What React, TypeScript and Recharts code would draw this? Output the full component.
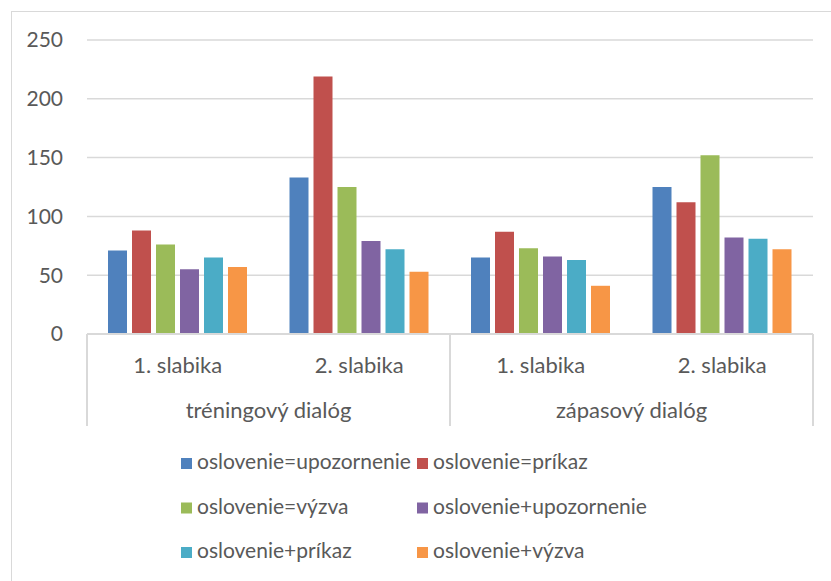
import React from "react";
import { Bar, BarChart, CartesianGrid, Legend, XAxis, YAxis } from "recharts";

// row labels of the two-level category axis
const syllables = ["1. slabika", "2. slabika", "1. slabika", "2. slabika"];
const dialogs = ["tréningový dialóg", "tréningový dialóg", "zápasový dialóg", "zápasový dialóg"];

const seriesNames = [
    "oslovenie=upozornenie",
    "oslovenie=príkaz",
    "oslovenie=výzva",
    "oslovenie+upozornenie",
    "oslovenie+príkaz",
    "oslovenie+výzva",
];
const seriesColors = ["#4F81BD", "#C0504D", "#9BBB59", "#8064A2", "#4BACC6", "#F79646"];

const upozornenieEq = [71, 133, 65, 125];
const prikazEq = [88, 219, 87, 112];
const vyzvaEq = [76, 125, 73, 152];
const upozornenieAdd = [55, 79, 66, 82];
const prikazAdd = [65, 72, 63, 81];
const vyzvaAdd = [57, 53, 41, 72];

const seriesValues = [upozornenieEq, prikazEq, vyzvaEq, upozornenieAdd, prikazAdd, vyzvaAdd];
const yTicks = [0, 50, 100, 150, 200, 250];

const data = syllables.map((s, i) => {
    const row: Record<string, string | number> = { sub: s, grp: dialogs[i] };
    seriesNames.forEach((n, k) => (row[n] = seriesValues[k][i]));
    return row;
});

const FONT = "Lato, 'Open Sans', sans-serif";
const TEXT = "#595959";
const LINE = "#d9d9d9";
const LEVEL_H = 46;

const SubTick = (props: any) => {
    const { x, y, payload } = props;
    return (
        <text x={x} y={y + 39} textAnchor="middle" fill={TEXT} fontSize={22} fontFamily={FONT}>
            {payload.value}
        </text>
    );
};

const GroupTick = (props: any) => {
    const { x, y, payload } = props;
    const half = payload.offset ?? 0;
    return (
        <g>
            <line x1={x - half} x2={x - half} y1={y - LEVEL_H} y2={y + LEVEL_H} stroke={LINE} strokeWidth={2} />
            <line x1={x + half} x2={x + half} y1={y - LEVEL_H} y2={y + LEVEL_H} stroke={LINE} strokeWidth={2} />
            <text x={x} y={y + 38} textAnchor="middle" fill={TEXT} fontSize={22} fontFamily={FONT}>
                {payload.value}
            </text>
        </g>
    );
};

const LegendBox = (props: any) => {
    // keep series order, not the alphabetical one
    const items = [...(props.payload || [])].sort(
        (a: any, b: any) => seriesNames.indexOf(a.value) - seriesNames.indexOf(b.value)
    );
    return (
        <svg width={560} height={140}>
            {items.map((it: any, i: number) => {
                const col = i % 2;
                const row = Math.floor(i / 2);
                const bx = col === 0 ? 11 : 247;
                const by = 29 + row * 44.5;
                return (
                    <g key={it.value}>
                        <rect x={bx} y={by - 11} width={11} height={11} fill={it.color} />
                        <text x={bx + 16} y={by} fill={TEXT} fontSize={21} fontFamily={FONT}>
                            {it.value}
                        </text>
                    </g>
                );
            })}
        </svg>
    );
};

export default function App() {
    return (
        <div
            style={{
                position: "absolute",
                left: 0,
                top: 0,
                width: 831,
                height: 581,
                overflow: "hidden",
                background: "#fff",
            }}
        >
            <div
                style={{
                    position: "absolute",
                    left: 11,
                    top: 11,
                    width: 840,
                    height: 600,
                    border: `1px solid ${LINE}`,
                }}
            />
            <BarChart
                width={831}
                height={581}
                data={data}
                margin={{ top: 40, right: 18, left: 0, bottom: 155 }}
                barSize={19}
                barGap={5}
            >
                <CartesianGrid vertical={false} stroke={LINE} strokeWidth={1.5} />
                <XAxis
                    dataKey="sub"
                    height={LEVEL_H}
                    tickLine={false}
                    tickSize={0}
                    tickMargin={0}
                    axisLine={{ stroke: LINE, strokeWidth: 2 }}
                    tick={<SubTick />}
                    interval={0}
                />
                <XAxis
                    xAxisId="grp"
                    dataKey="grp"
                    allowDuplicatedCategory={false}
                    height={LEVEL_H}
                    tickLine={false}
                    tickSize={0}
                    tickMargin={0}
                    axisLine={false}
                    tick={<GroupTick />}
                    interval={0}
                />
                <YAxis
                    width={87}
                    domain={[0, 250]}
                    ticks={yTicks}
                    axisLine={false}
                    tickLine={false}
                    tickSize={0}
                    tickMargin={24}
                    tick={{ fill: TEXT, fontSize: 21, fontFamily: FONT }}
                />
                <Legend
                    layout="horizontal"
                    verticalAlign="middle"
                    align="center"
                    wrapperStyle={{ top: 440, left: 170, width: 560, height: 140 }}
                    content={<LegendBox />}
                />
                {seriesNames.map((n, k) => (
                    <Bar key={n} dataKey={n} name={n} fill={seriesColors[k]} isAnimationActive={false} />
                ))}
            </BarChart>
        </div>
    );
}
